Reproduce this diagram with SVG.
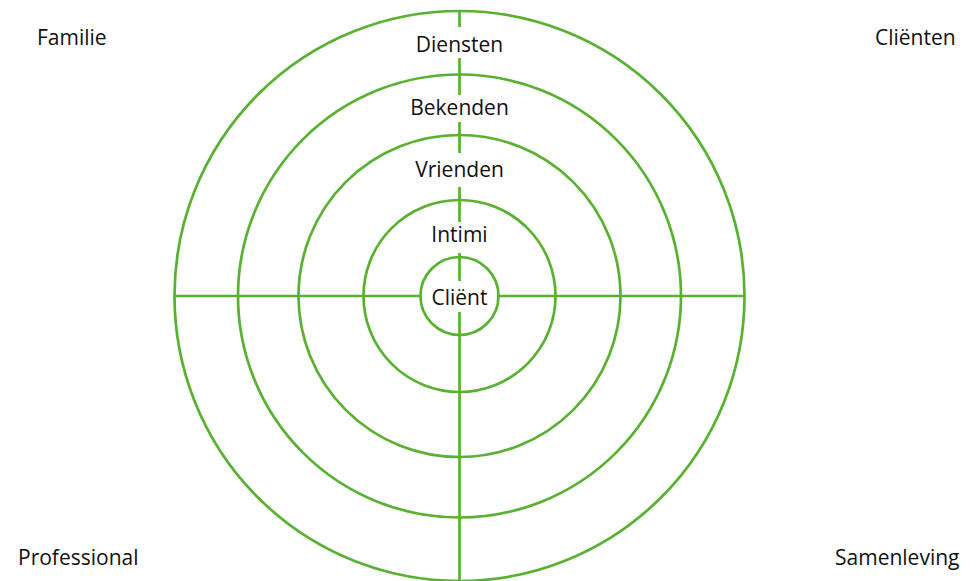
<svg xmlns="http://www.w3.org/2000/svg" width="980" height="581" viewBox="0 0 980 581">
<style>
.ring{fill:none;stroke:#58b130;stroke-width:2.7}
.ln{stroke:#58b130;stroke-width:2.7;fill:none}
text{font-family:"Open Sans","Noto Sans","Liberation Sans",sans-serif;font-size:21px;fill:#111}
.c{text-anchor:middle}
</style>
<rect width="980" height="581" fill="#fff"/>
<g id="rings">
<circle id="ring-diensten" class="ring" cx="459.5" cy="296" r="285"/>
<circle id="ring-bekenden" class="ring" cx="459.5" cy="296" r="221.5"/>
<circle id="ring-vrienden" class="ring" cx="459.5" cy="296" r="161"/>
<circle id="ring-intimi" class="ring" cx="459.5" cy="296" r="96"/>
<circle id="ring-client" class="ring" cx="459.5" cy="296" r="39"/>
</g>
<g id="connectors">
<path class="ln" d="M174.5 296H420.5M498.5 296H744.5"/>
<path class="ln" d="M459.5 11V27M459.5 58V95M459.5 122V153M459.5 187V222M459.5 253V281M459.5 312V581"/>
</g>
<g id="labels">
<text class="c" x="459.5" y="52">Diensten</text>
<text class="c" x="459.5" y="115">Bekenden</text>
<text class="c" x="459.5" y="177">Vrienden</text>
<text class="c" x="459.5" y="242">Intimi</text>
<text class="c" x="459.5" y="305">Cliënt</text>
</g>
<g id="corners">
<text id="familie" x="37" y="45">Familie</text>
<text id="clienten" x="875" y="45">Cliënten</text>
<text id="professional" x="18" y="565">Professional</text>
<text id="samenleving" x="835" y="565">Samenleving</text>
</g>
</svg>
